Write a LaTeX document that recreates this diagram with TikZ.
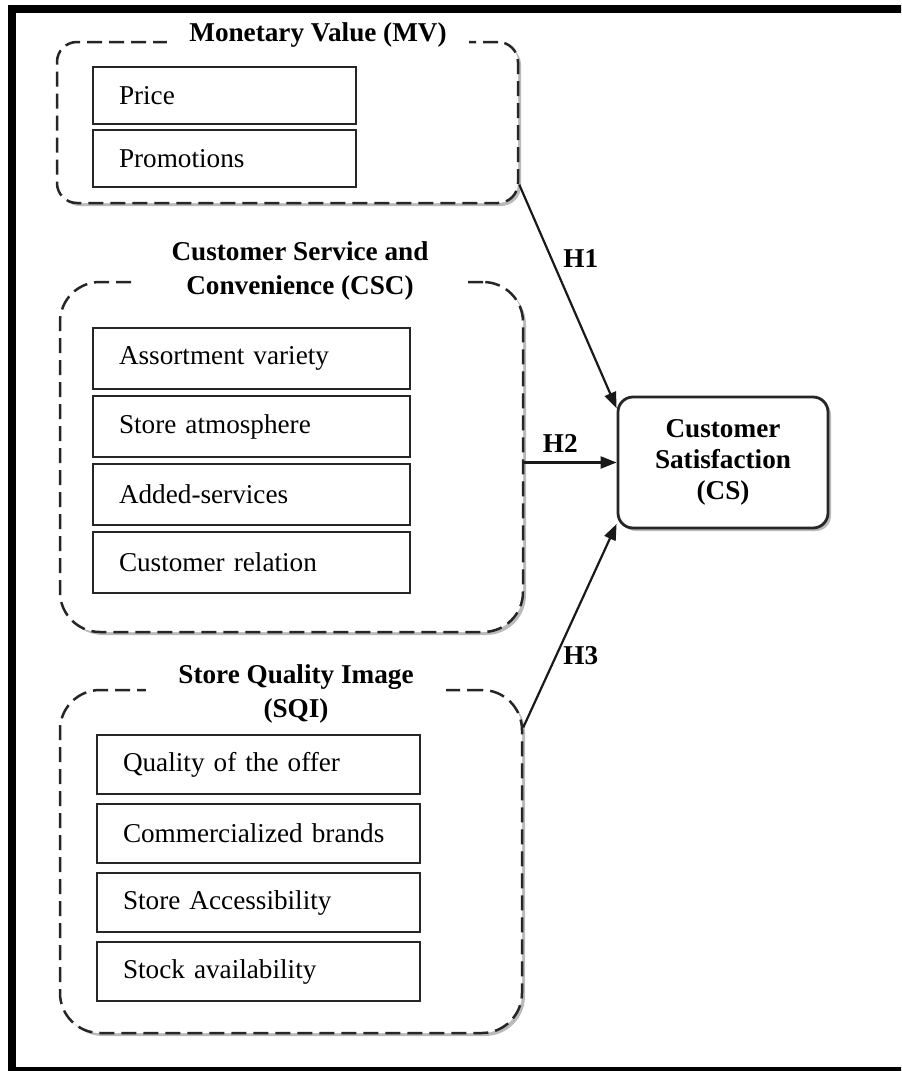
\documentclass[tikz,border=0pt]{standalone}
\usepackage{fontspec}
\setmainfont{Liberation Serif}
\usetikzlibrary{arrows.meta,positioning,shadows}
\tikzset{
  group/.style={
    draw=black!85,
    dash pattern=on 7.5pt off 3.5pt,
    line width=1.25pt,
    rounded corners=#1,
    fill=white,
    drop shadow={shadow xshift=1.5pt, shadow yshift=-1.5pt, opacity=0.45, fill=black!60}
  },
  group/.default=10pt,
  grouptitle/.style={
    fill=white,
    align=center,
    inner ysep=2pt,
    font=\bfseries\fontsize{13.6}{17}\selectfont
  },
  item/.style={
    draw=black!85,
    line width=1.3pt,
    fill=white,
    outer sep=0pt,
    inner xsep=13pt,
    align=left,
    font=\fontsize{13.6}{16}\selectfont
  },
  mvitem/.style={item, text width=105.5pt, minimum height=28.5pt},
  cscitem/.style={item, text width=132.5pt, minimum height=30.5pt},
  sqiitem/.style={item, text width=135.5pt, minimum height=29.5pt},
  target/.style={
    draw=black!85,
    line width=1.4pt,
    rounded corners=7.5pt,
    fill=white,
    align=center,
    minimum width=105pt,
    minimum height=65.5pt,
    font=\bfseries\fontsize{13.6}{15.5}\selectfont,
    drop shadow={shadow xshift=1.5pt, shadow yshift=-1.5pt, opacity=0.45, fill=black!60}
  },
  link/.style={
    -{Triangle[length=8pt,width=6pt]},
    line width=1.1pt,
    draw=black!90
  },
  hlabel/.style={
    anchor=west,
    inner ysep=0pt,
    font=\bfseries\fontsize{13.6}{16}\selectfont
  }
}

\begin{document}
\begin{tikzpicture}[x=0.5pt, y=-0.5pt]
    \useasboundingbox (0,0) rectangle (901,1071);
    \clip (0,0) rectangle (901,1071);
    \draw[line width=4pt] (11.5,9) rectangle (915,1071);

    \node[group, minimum width=230.5pt, minimum height=80.5pt] (mv) at (287.5,122.5) {};
    \node[group=20pt, minimum width=231.5pt, minimum height=175pt] (csc) at (291.5,457) {};
    \node[group=20pt, minimum width=231pt, minimum height=171.5pt] (sqi) at (291,861.5) {};

    \node[grouptitle, inner xsep=11pt] (mvtitle) at (318,35) {Monetary Value (MV)};
    \node[grouptitle, inner xsep=17pt] (csctitle) at (300,271) {Customer Service and\\Convenience (CSC)};
    \node[grouptitle, inner xsep=16pt] (sqititle) at (296,694) {Store Quality Image\\(SQI)};

    \node[mvitem, anchor=north west] (price) at (93,67) {Price};
    \node[mvitem, below=3pt of price] (promo) {Promotions};

    \node[cscitem, anchor=north west] (assort) at (93,328) {Assortment variety};
    \node[cscitem, below=3.5pt of assort] (atmos) {Store atmosphere};
    \node[cscitem, below=3.5pt of atmos] (added) {Added-services};
    \node[cscitem, below=3.5pt of added] (relation) {Customer relation};

    \node[sqiitem, anchor=north west] (quality) at (97,735) {Quality of the offer};
    \node[sqiitem, below=5pt of quality] (brands) {Commercialized brands};
    \node[sqiitem, below=5pt of brands] (access) {Store Accessibility};
    \node[sqiitem, below=5pt of access] (stock) {Stock availability};

    \node[target] (cs) at (723,462.5) {Customer\\Satisfaction\\(CS)};

    \draw[link] (mv.-15.6) -- node[hlabel, pos=0.33, inner xsep=5.5pt] (h1) {H1} (cs.153.4);
    \draw[link] (csc.east |- cs.west) -- node[hlabel, pos=0.39, anchor=south, inner ysep=4.5pt] (h2) {H2} (cs.west);
    \draw[link] (sqi.30) -- node[hlabel, pos=0.354, inner xsep=3pt] (h3) {H3} (cs.-150.5);
  \end{tikzpicture}
\end{document}
